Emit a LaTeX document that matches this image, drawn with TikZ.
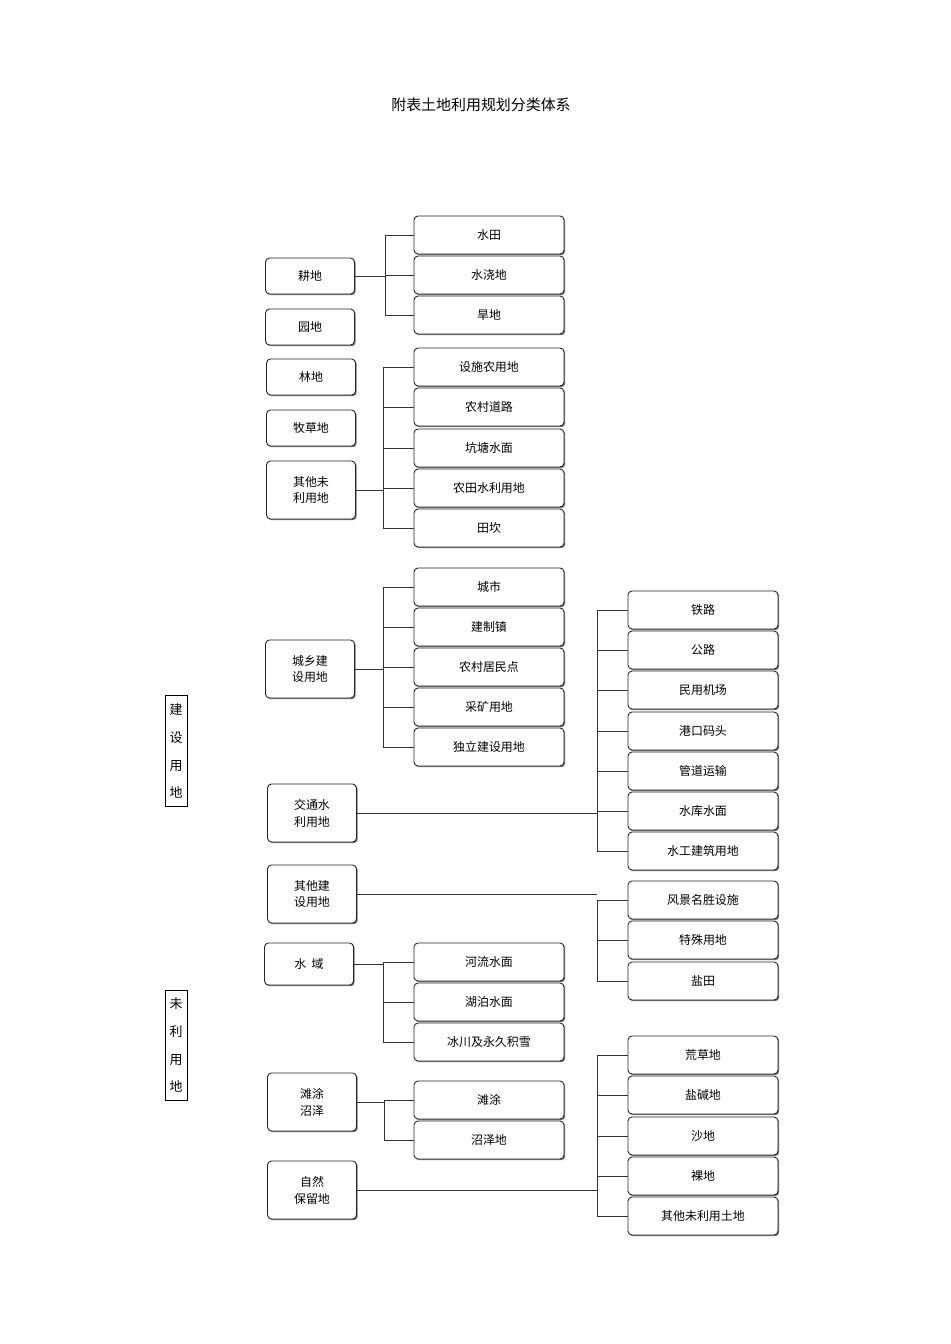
\documentclass[tikz,border=0pt]{standalone}
\usepackage{fontspec}
\setmainfont{Noto Sans CJK SC}
\usetikzlibrary{shadows}
\begin{document}
\begin{tikzpicture}[x=1bp,y=-1bp,
 bx/.style={draw=black!85,line width=0.9pt,rounded corners=4bp,fill=white,align=center,font=\fontsize{12}{17}\selectfont,inner sep=0pt,
   drop shadow={shadow xshift=1.2bp,shadow yshift=-1.2bp,fill=black!55,opacity=1}},
 L/.style={bx,minimum width=89bp,minimum height=36bp},
 LL/.style={bx,minimum width=89bp,minimum height=58bp},
 M/.style={bx,minimum width=150bp,minimum height=38bp},
 ln/.style={line width=0.8pt,black!80}]
\useasboundingbox (0,0) rectangle (950,1344);
\node[font=\fontsize{15}{18}\selectfont] (title) at (481,105) {附表土地利用规划分类体系};
% side labels
\node[draw,line width=0.6pt,minimum width=22bp,minimum height=111bp,inner sep=0pt,font=\fontsize{13}{28}\selectfont,align=center] (js) at (176,751) {建\\设\\用\\地};
\node[draw,line width=0.6pt,minimum width=22bp,minimum height=110bp,inner sep=0pt,font=\fontsize{13}{28}\selectfont,align=center] (wl) at (176,1045) {未\\利\\用\\地};
% left column
\node[L] (gd) at (310,276) {耕地};
\node[L] (yd) at (310,327) {园地};
\node[L] (ld) at (311,377) {林地};
\node[L] (mcd) at (311,428) {牧草地};
\node[LL] (qtw) at (311,490) {其他未\\利用地};
\node[LL] (cx) at (310,669) {城乡建\\设用地};
\node[LL] (jt) at (312,813) {交通水\\利用地};
\node[LL] (qtj) at (312,894) {其他建\\设用地};
\node[bx,minimum width=89bp,minimum height=42bp] (sy) at (309,964) {水\ \ 域};
\node[LL] (ttz) at (312,1102) {滩涂\\沼泽};
\node[LL] (zr) at (312,1190) {自然\\保留地};
% middle column
\foreach \n/\y/\t in {a1/235/水田,a2/275/水浇地,a3/315/旱地,
  b1/367/设施农用地,b2/407/农村道路,b3/448/坑塘水面,b4/488/农田水利用地,b5/528/田坎,
  c1/587/城市,c2/627/建制镇,c3/667/农村居民点,c4/707/采矿用地,c5/747/独立建设用地,
  d1/962/河流水面,d2/1002/湖泊水面,d3/1042/冰川及永久积雪,
  e1/1100/滩涂,e2/1140/沼泽地}
  \node[M] (\n) at (489,\y) {\t};
% right column
\foreach \n/\y/\t in {f1/610/铁路,f2/650/公路,f3/690/民用机场,f4/731/港口码头,f5/771/管道运输,f6/811/水库水面,f7/851/水工建筑用地,
  g1/900/风景名胜设施,g2/940/特殊用地,g3/981/盐田,
  h1/1055/荒草地,h2/1095/盐碱地,h3/1136/沙地,h4/1176/裸地,h5/1216/其他未利用土地}
  \node[M] (\n) at (703,\y) {\t};
% connectors
\foreach \s/\x/\first/\last/\list in {gd/385/a1/a3/{a1,a2,a3},qtw/383/b1/b5/{b1,b2,b3,b4,b5},cx/383/c1/c5/{c1,c2,c3,c4,c5},
  sy/383/d1/d3/{d1,d2,d3},ttz/384/e1/e2/{e1,e2},jt/597/f1/f7/{f1,f2,f3,f4,f5,f6,f7},qtj/597/g1/g3/{g1,g2,g3},zr/597/h1/h5/{h1,h2,h3,h4,h5}}{
  \draw[ln] (\first.west -| \x,0) -- (\last.west -| \x,0);
  \draw[ln] (\s.east) -- (\s.east -| \x,0);
  \foreach \m in \list {\draw[ln] (\m.west -| \x,0) -- (\m.west);}
}
\end{tikzpicture}
\end{document}
